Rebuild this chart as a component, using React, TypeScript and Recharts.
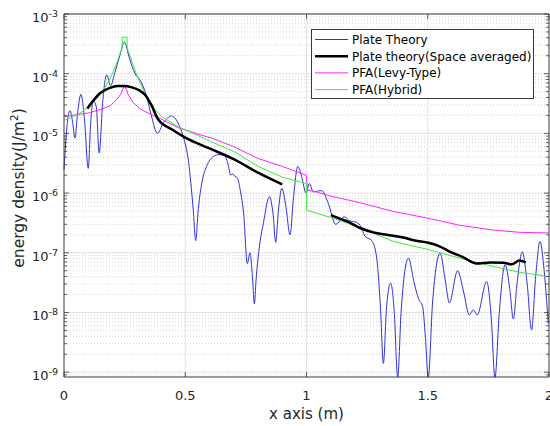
import { LineChart, Line, XAxis, YAxis, CartesianGrid, ReferenceLine } from 'recharts';

// Plate theory (raw response)
const plateX = [
  0, 0.008, 0.016, 0.025, 0.035, 0.045, 0.056, 0.07, 0.085, 0.1, 0.11, 0.121, 0.133, 0.145, 0.16, 0.176,
  0.192, 0.21, 0.23, 0.249, 0.27, 0.293, 0.313, 0.341, 0.36, 0.385, 0.41, 0.444, 0.47, 0.492, 0.513, 0.533,
  0.543, 0.554, 0.57, 0.588, 0.616, 0.64, 0.66, 0.675, 0.688, 0.696, 0.705, 0.715, 0.727, 0.741, 0.756, 0.767,
  0.778, 0.785, 0.792, 0.805, 0.822, 0.847, 0.862, 0.873, 0.884, 0.898, 0.915, 0.932, 0.946, 0.964, 0.98, 0.998,
  1.012, 1.028, 1.045, 1.063, 1.09, 1.12, 1.156, 1.18, 1.2, 1.221, 1.241, 1.269, 1.289, 1.305, 1.317, 1.33,
  1.347, 1.362, 1.376, 1.39, 1.42, 1.445, 1.462, 1.479, 1.49, 1.502, 1.52, 1.551, 1.572, 1.589, 1.623, 1.648,
  1.671, 1.688, 1.704, 1.743, 1.762, 1.777, 1.795, 1.819, 1.838, 1.853, 1.868, 1.89, 1.91, 1.928, 1.945, 1.963,
  1.98, 1.997,
];
const plateY = [
  2.5e-6, 8e-6, 1.8e-5, 2.4e-5, 1.6e-5, 8.3e-6, 2.2e-5, 4.5e-5, 1.6e-5, 2.6e-6, 1.5e-5, 3.5e-5, 2.8e-5, 4.7e-6, 3.5e-5, 9.6e-5,
  6.3e-5, 1.05e-4, 2.0e-4, 3.4e-4, 1.8e-4, 1.0e-4, 7.9e-5, 4.1e-5, 2.0e-5, 1.0e-5, 1.5e-5, 1.95e-5, 1.5e-5, 8.7e-6, 3.5e-6, 5.2e-7,
  1.6e-7, 5.5e-7, 1.6e-6, 2.8e-6, 4.1e-6, 4.4e-6, 4.3e-6, 3.2e-6, 2.0e-6, 2.1e-6, 1.9e-6, 1.8e-6, 1.1e-6, 4.5e-7, 6.6e-8, 1.0e-7,
  3.5e-8, 1.4e-8, 3.5e-8, 1.2e-7, 3.1e-7, 8.7e-7, 4.5e-7, 1.5e-7, 5e-7, 1.2e-6, 6e-7, 2e-7, 8e-7, 2.8e-6, 1.9e-6, 1.0e-6,
  1.45e-6, 1.05e-6, 1.08e-6, 1.1e-6, 6.7e-7, 3.0e-7, 4.0e-7, 3.4e-7, 3.3e-7, 2.9e-7, 1.9e-7, 1.6e-7, 8.5e-8, 1.2e-8, 1.4e-9, 1.2e-8,
  3.1e-8, 1e-8, 8e-10, 1e-8, 8.1e-8, 3e-8, 1.7e-8, 1.25e-8, 4e-9, 8e-10, 1.5e-8, 9.8e-8, 3.5e-8, 1.45e-8, 5e-8, 2.2e-8,
  9.1e-9, 1.1e-8, 9.1e-9, 3.3e-8, 8e-9, 8e-10, 1e-8, 6.3e-8, 2.5e-8, 7.8e-9, 3e-8, 1.04e-7, 3e-8, 5.1e-9, 4e-8, 1.55e-7,
  5e-8, 6.6e-9,
];

// Plate theory, space averaged (two pieces)
const avgX1 = [0.096, 0.12, 0.148, 0.19, 0.22, 0.245, 0.28, 0.313, 0.335, 0.36, 0.389, 0.444, 0.5, 0.6, 0.7, 0.8, 0.9];
const avgY1 = [2.6e-5, 3.5e-5, 4.7e-5, 5.8e-5, 6.2e-5, 6.2e-5, 5.9e-5, 5.2e-5, 4.4e-5, 3.0e-5, 1.7e-5, 1.17e-5, 8.5e-6, 5.6e-6, 3.7e-6, 2.2e-6, 1.4e-6];
const avgX2 = [1.101, 1.14, 1.172, 1.221, 1.276, 1.331, 1.399, 1.447, 1.502, 1.551, 1.592, 1.647, 1.702, 1.757, 1.812, 1.846, 1.878, 1.904];
const avgY2 = [4.3e-7, 3.7e-7, 3.3e-7, 2.6e-7, 2.2e-7, 2.0e-7, 1.8e-7, 1.6e-7, 1.47e-7, 1.27e-7, 1.04e-7, 8.4e-8, 6.6e-8, 6.9e-8, 6.8e-8, 6.4e-8, 7.4e-8, 6.9e-8];

// PFA (Levy-Type)
const levyX = [0, 0.05, 0.1, 0.15, 0.19, 0.215, 0.235, 0.25, 0.265, 0.285, 0.313, 0.35, 0.4, 0.47, 0.55, 0.61, 0.7, 0.8, 0.9, 0.998, 1.005, 1.05, 1.1, 1.22, 1.36, 1.5, 1.63, 1.77, 1.88, 2.0];
const levyY = [1.9e-5, 2.05e-5, 2.2e-5, 2.5e-5, 2.9e-5, 3.6e-5, 4.6e-5, 6.5e-5, 4.4e-5, 3.3e-5, 2.6e-5, 2.15e-5, 1.75e-5, 1.25e-5, 9.8e-6, 8.3e-6, 6e-6, 3.8e-6, 2.8e-6, 2e-6, 1.12e-6, 1.02e-6, 8.9e-7, 6.9e-7, 4.9e-7, 3.8e-7, 2.9e-7, 2.4e-7, 2.2e-7, 2.15e-7];

// PFA (Hybrid)
const hybX = [0, 0.03, 0.066, 0.1, 0.121, 0.162, 0.185, 0.203, 0.22, 0.231, 0.24, 0.2401, 0.26, 0.2601, 0.272, 0.285, 0.3, 0.327, 0.352, 0.38, 0.403, 0.471, 0.55, 0.609, 0.7, 0.8, 0.9, 0.999, 1.0, 1.1, 1.172, 1.221, 1.358, 1.496, 1.633, 1.77, 1.88, 2.0];
const hybY = [1.66e-5, 1.85e-5, 2.2e-5, 2.8e-5, 3.4e-5, 5.3e-5, 7.5e-5, 1.08e-4, 1.6e-4, 2.2e-4, 2.7e-4, 4.1e-4, 4.1e-4, 2.7e-4, 2.0e-4, 1.4e-4, 9.5e-5, 5.3e-5, 3.3e-5, 2.4e-5, 1.9e-5, 1.29e-5, 9.3e-6, 7.2e-6, 5.0e-6, 2.8e-6, 1.85e-6, 1.45e-6, 5.2e-7, 3.9e-7, 3.1e-7, 2.6e-7, 1.55e-7, 1.15e-7, 8.1e-8, 5.9e-8, 4.7e-8, 4.0e-8];

const xTicks = [0, 0.5, 1, 1.5, 2];
const xGrid = [0.5, 1, 1.5];
const yMajor = [1e-9, 1e-8, 1e-7, 1e-6, 1e-5, 1e-4, 1e-3];
const yMinor = [
  9e-10,
  2e-9, 3e-9, 4e-9, 5e-9, 6e-9, 7e-9, 8e-9, 9e-9,
  2e-8, 3e-8, 4e-8, 5e-8, 6e-8, 7e-8, 8e-8, 9e-8,
  2e-7, 3e-7, 4e-7, 5e-7, 6e-7, 7e-7, 8e-7, 9e-7,
  2e-6, 3e-6, 4e-6, 5e-6, 6e-6, 7e-6, 8e-6, 9e-6,
  2e-5, 3e-5, 4e-5, 5e-5, 6e-5, 7e-5, 8e-5, 9e-5,
  2e-4, 3e-4, 4e-4, 5e-4, 6e-4, 7e-4, 8e-4, 9e-4,
];

const toRows = (xs: number[], ys: number[]) => xs.map((x, i) => ({ x, y: ys[i] }));

const PLOT_W = 485;
const PLOT_H = 363;
const AXIS = '#3a3a3a';
const TEXT = '#262626';
const FONT = '"DejaVu Sans", "Liberation Sans", sans-serif';

const BLUE = '#3030dc';
const MAGENTA = '#ff22ff';
const GREEN = '#3dea3d';

const isMajor = (v: number) => Math.abs(Math.log10(v) - Math.round(Math.log10(v))) < 1e-6;

const YTick = (props: any) => {
  const { x, y, payload } = props;
  const v = payload.value;
  const major = isMajor(v);
  const len = major ? 5 : 3;
  return (
    <g>
      <line x1={x} x2={x + len} y1={y} y2={y} stroke={AXIS} strokeWidth={0.8} />
      <line x1={x + PLOT_W} x2={x + PLOT_W - len} y1={y} y2={y} stroke={AXIS} strokeWidth={0.8} />
      {major && (
        <text x={x - 6} y={y + 8} textAnchor="end" fontSize={13} fill={TEXT} fontFamily={FONT}>
          10<tspan dy={-5} fontSize={9.5}>{Math.round(Math.log10(v))}</tspan>
        </text>
      )}
    </g>
  );
};

const XTick = (props: any) => {
  const { x, y, payload } = props;
  return (
    <g>
      <line x1={x} x2={x} y1={y} y2={y - 5} stroke={AXIS} strokeWidth={0.8} />
      <line x1={x} x2={x} y1={y - PLOT_H} y2={y - PLOT_H + 5} stroke={AXIS} strokeWidth={0.8} />
      <text x={x} y={y + 23} textAnchor="middle" fontSize={13} fill={TEXT} fontFamily={FONT}>
        {payload.value}
      </text>
    </g>
  );
};

const legendItems = [
  { name: 'Plate Theory', color: BLUE, width: 1 },
  { name: 'Plate theory(Space averaged)', color: '#000000', width: 2.5 },
  { name: 'PFA(Levy-Type)', color: MAGENTA, width: 1 },
  { name: 'PFA(Hybrid)', color: GREEN, width: 1 },
];

export default function App() {
  return (
    <div style={{ position: 'absolute', left: 0, top: 0, width: 550, height: 426, background: '#fff' }}>
      <LineChart width={550} height={426} margin={{ top: 14, right: 1, bottom: 0, left: 0 }}>
        <CartesianGrid horizontalValues={yMinor} vertical={false} stroke="#d4d4d4" strokeDasharray="1 2" />
        <CartesianGrid horizontalValues={yMajor} verticalValues={xGrid} stroke="#e2e2e2" />
        <XAxis
          dataKey="x"
          type="number"
          domain={[0, 2]}
          ticks={xTicks}
          interval={0}
          height={49}
          tickSize={0}
          tickMargin={0}
          tickLine={false}
          tick={<XTick />}
          axisLine={{ stroke: AXIS }}
          label={{ value: 'x axis (m)', position: 'insideBottom', offset: 7, fontSize: 15, fill: TEXT, fontFamily: FONT }}
        />
        <YAxis
          dataKey="y"
          scale="log"
          domain={[8.3e-10, 1e-3]}
          allowDataOverflow
          ticks={[...yMinor, ...yMajor].sort((a, b) => a - b)}
          interval={0}
          width={64}
          tickSize={0}
          tickMargin={0}
          tickLine={false}
          tick={<YTick />}
          axisLine={{ stroke: AXIS }}
          label={(
            <text
              x={24}
              y={196}
              transform="rotate(-90 24 196)"
              textAnchor="middle"
              fontSize={15.5}
              fill={TEXT}
              fontFamily={FONT}
            >
              energy density(J/m<tspan dy={-6} fontSize={10.5}>2</tspan><tspan dy={6}>)</tspan>
            </text>
          )}
        />
        <ReferenceLine y={1e-3} stroke={AXIS} />
        <ReferenceLine x={2} stroke={AXIS} />
        <Line data={toRows(plateX, plateY)} dataKey="y" type="monotone" stroke={BLUE} strokeWidth={1} dot={false} activeDot={false} isAnimationActive={false} />
        <Line data={toRows(levyX, levyY)} dataKey="y" type="linear" stroke={MAGENTA} strokeWidth={1} dot={false} activeDot={false} isAnimationActive={false} />
        <Line data={toRows(hybX, hybY)} dataKey="y" type="linear" stroke={GREEN} strokeWidth={1} dot={false} activeDot={false} isAnimationActive={false} />
        <Line data={toRows(avgX1, avgY1)} dataKey="y" type="monotone" stroke="#000" strokeWidth={2.5} dot={false} activeDot={false} isAnimationActive={false} />
        <Line data={toRows(avgX2, avgY2)} dataKey="y" type="monotone" stroke="#000" strokeWidth={2.5} dot={false} activeDot={false} isAnimationActive={false} />
      </LineChart>

      {/* legend box */}
      <div
        style={{
          position: 'absolute',
          left: 311,
          top: 29,
          width: 223,
          height: 70,
          boxSizing: 'border-box',
          border: `1px solid ${AXIS}`,
          background: '#fff',
        }}
      >
        <svg width={221} height={68} style={{ display: 'block' }}>
          {legendItems.map((it, i) => {
            const cy = 9.5 + i * 16.7;
            return (
              <g key={it.name}>
                <line x1={3} x2={36} y1={cy} y2={cy} stroke={it.color} strokeWidth={it.width} />
                <text x={40} y={cy + 4.5} fontSize={12} fill="#000" fontFamily={FONT}>
                  {it.name}
                </text>
              </g>
            );
          })}
        </svg>
      </div>
    </div>
  );
}
